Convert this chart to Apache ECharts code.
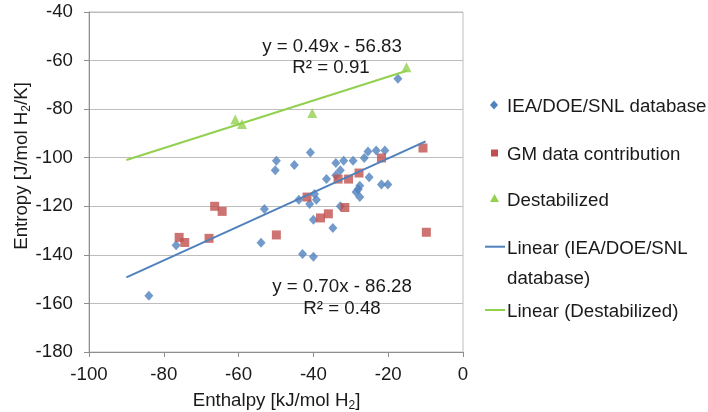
<!DOCTYPE html>
<html><head><meta charset="utf-8">
<script src="https://cdn.jsdelivr.net/npm/echarts@6/dist/echarts.min.js"></script>
<style>html,body{margin:0;padding:0;background:#fff}#c{width:708px;height:412px}</style>
</head><body><div id="c"></div>
<script>
// ---- data ----
const ieaEnthalpy = [-84.0,-76.7,-54.0,-53.1,-50.2,-49.9,-45.1,-40.8,-43.9,-41.0,-39.7,-39.2,-40.0,-42.9,-40.0,-34.8,-36.5,-34.0,-31.9,-29.4,-26.4,-25.4,-23.2,-20.9,-34.0,-32.8,-32.8,-28.6,-27.6,-27.6,-25.1,-21.8,-20.1,-17.4,-28.0];
const ieaEntropy  = [-156.8,-136.0,-135.0,-121.1,-105.2,-101.3,-103.0,-97.9,-117.3,-119.1,-114.9,-117.3,-125.5,-139.6,-140.8,-128.9,-108.8,-102.2,-101.2,-101.2,-100.1,-97.4,-97.0,-97.0,-107.2,-105.2,-120.0,-114.1,-111.5,-116.2,-108.0,-111.0,-111.0,-67.5,-113.0];
const gmEnthalpy = [-75.9,-74.4,-67.9,-66.4,-64.4,-49.9,-41.7,-38.1,-36.0,-31.6,-33.4,-30.6,-27.8,-21.8,-10.7,-9.8];
const gmEntropy  = [-132.8,-134.9,-133.2,-120.0,-122.1,-131.8,-116.2,-124.8,-123.1,-120.5,-108.8,-108.8,-106.3,-100.1,-96.0,-130.7];
const destEnthalpy = [-60.9,-59.1,-40.3,-15.1];
const destEntropy  = [-84.3,-86.1,-81.6,-62.8];

const seriesNames = ['IEA/DOE/SNL database','GM data contribution','Destabilized'];
const trendNames = ['Linear (IEA/DOE/SNL database)','Linear (Destabilized)'];
const ieaFit = [0.70, -86.28];      // slope, intercept
const destFit = [0.49, -56.83];
const ieaFitRange = [-90, -10];
const destFitRange = [-90, -15];
const ieaFitLabel = ['y = 0.70x - 86.28', 'R² = 0.48'];
const destFitLabel = ['y = 0.49x - 56.83', 'R² = 0.91'];
const xTicks = [-100,-80,-60,-40,-20,0];
const yTicks = [-180,-160,-140,-120,-100,-80,-60,-40];
const xTitle = 'Enthalpy [kJ/mol H{s|2}]';
const yTitle = 'Entropy [J/mol H{s|2}/K]';

// ---- build ----
const pair = (xs, ys) => xs.map((x, i) => [x, ys[i]]);
const fitLine = (fit, rng) => rng.map(x => [x, fit[0] * x + fit[1]]);

const FONT = 'Liberation Sans, Arial, sans-serif';
const FS = 18.7;
const BLUE = '#4F81BD', RED = '#C0504D', GREEN = '#92D050';
const TXT = '#1a1a1a';
const rich = { s: { fontSize: 12, fontFamily: FONT, fill: TXT, color: TXT, padding: [9, 0, 0, 0] } };

const chart = echarts.init(document.getElementById('c'), null, { renderer: 'canvas' });

const legendItems = [
  { icon: 'diamond', color: BLUE, y: 105, text: seriesNames[0] },
  { icon: 'rect', color: RED, y: 153, text: seriesNames[1] },
  { icon: 'triangle', color: GREEN, y: 198.5, text: seriesNames[2] },
  { icon: 'line', color: BLUE, y: 246.7, text: 'Linear (IEA/DOE/SNL\ndatabase)' },
  { icon: 'line', color: GREEN, y: 310, text: trendNames[1] }
];
const legendGraphics = [];
legendItems.forEach(it => {
  if (it.icon === 'diamond') {
    legendGraphics.push({ type: 'polygon', shape: { points: [[494, it.y - 4.5], [498, it.y], [494, it.y + 4.5], [490, it.y]] }, style: { fill: it.color } });
  } else if (it.icon === 'rect') {
    legendGraphics.push({ type: 'rect', shape: { x: 491, y: it.y - 3.5, width: 7, height: 7 }, style: { fill: it.color } });
  } else if (it.icon === 'triangle') {
    legendGraphics.push({ type: 'polygon', shape: { points: [[494.5, it.y - 4.5], [499, it.y + 3.5], [490, it.y + 3.5]] }, style: { fill: it.color } });
  } else {
    legendGraphics.push({ type: 'line', shape: { x1: 485, y1: it.y, x2: 505, y2: it.y }, style: { stroke: it.color, lineWidth: 2 } });
  }
  legendGraphics.push({
    type: 'text', x: 507, y: it.y - 13,
    style: { text: it.text, font: FS + 'px ' + FONT, fill: TXT, textVerticalAlign: 'top', lineHeight: 30 }
  });
});

const option = {
  backgroundColor: '#fff',
  animation: false,
  grid: { left: 89, top: 12, width: 374, height: 340, show: true, borderColor: '#bdbdbd', borderWidth: 1, containLabel: false, outerBoundsMode: 'none' },
  xAxis: {
    type: 'value', min: xTicks[0], max: xTicks[xTicks.length - 1], interval: 20,
    axisLine: { show: true, onZero: false, lineStyle: { color: '#8e8e8e', width: 1 } },
    axisTick: { show: true, inside: false, length: 5, lineStyle: { color: '#8e8e8e' } },
    splitLine: { show: false },
    axisLabel: { margin: 13, color: TXT, fontSize: FS, fontFamily: FONT }
  },
  yAxis: {
    type: 'value', min: yTicks[0], max: yTicks[yTicks.length - 1], interval: 20,
    axisLine: { show: true, onZero: false, lineStyle: { color: '#8e8e8e', width: 1 } },
    axisTick: { show: true, inside: false, length: 5, lineStyle: { color: '#8e8e8e' } },
    splitLine: { show: true, lineStyle: { color: '#bdbdbd', width: 1 } },
    axisLabel: { margin: 16, color: TXT, fontSize: FS, fontFamily: FONT }
  },
  series: [
    { name: seriesNames[0], type: 'scatter', symbol: 'diamond', symbolSize: [9, 10], itemStyle: { color: BLUE }, data: pair(ieaEnthalpy, ieaEntropy), z: 3 },
    { name: seriesNames[1], type: 'scatter', symbol: 'rect', symbolSize: 9, itemStyle: { color: RED }, data: pair(gmEnthalpy, gmEntropy), z: 3 },
    { name: seriesNames[2], type: 'scatter', symbol: 'triangle', symbolSize: 10, itemStyle: { color: GREEN }, data: pair(destEnthalpy, destEntropy), z: 3 },
    { name: trendNames[0], type: 'line', showSymbol: false, symbol: 'none', lineStyle: { color: BLUE, width: 2 }, data: fitLine(ieaFit, ieaFitRange), z: 4 },
    { name: trendNames[1], type: 'line', showSymbol: false, symbol: 'none', lineStyle: { color: GREEN, width: 2 }, data: fitLine(destFit, destFitRange), z: 4 }
  ],
  graphic: [
    { type: 'text', x: 332, y: 47, style: { text: destFitLabel[0], font: FS + 'px ' + FONT, fill: TXT, textAlign: 'center', textVerticalAlign: 'middle' }, z: 10 },
    { type: 'text', x: 331, y: 68, style: { text: destFitLabel[1], font: FS + 'px ' + FONT, fill: TXT, textAlign: 'center', textVerticalAlign: 'middle' }, z: 10 },
    { type: 'text', x: 342, y: 287, style: { text: ieaFitLabel[0], font: FS + 'px ' + FONT, fill: TXT, textAlign: 'center', textVerticalAlign: 'middle' }, z: 10 },
    { type: 'text', x: 342, y: 308.5, style: { text: ieaFitLabel[1], font: FS + 'px ' + FONT, fill: TXT, textAlign: 'center', textVerticalAlign: 'middle' }, z: 10 },
    { type: 'text', x: 276.5, y: 401, style: { text: xTitle, rich: rich, font: FS + 'px ' + FONT, fontSize: FS, fontFamily: FONT, fill: TXT, align: 'center', verticalAlign: 'middle' }, z: 10 },
    { type: 'text', x: 22, y: 166, rotation: Math.PI / 2, style: { text: yTitle, rich: rich, font: FS + 'px ' + FONT, fontSize: FS, fontFamily: FONT, fill: TXT, align: 'center', verticalAlign: 'middle' }, z: 10 },
    ...legendGraphics
  ]
};
chart.setOption(option);
</script>
</body></html>
